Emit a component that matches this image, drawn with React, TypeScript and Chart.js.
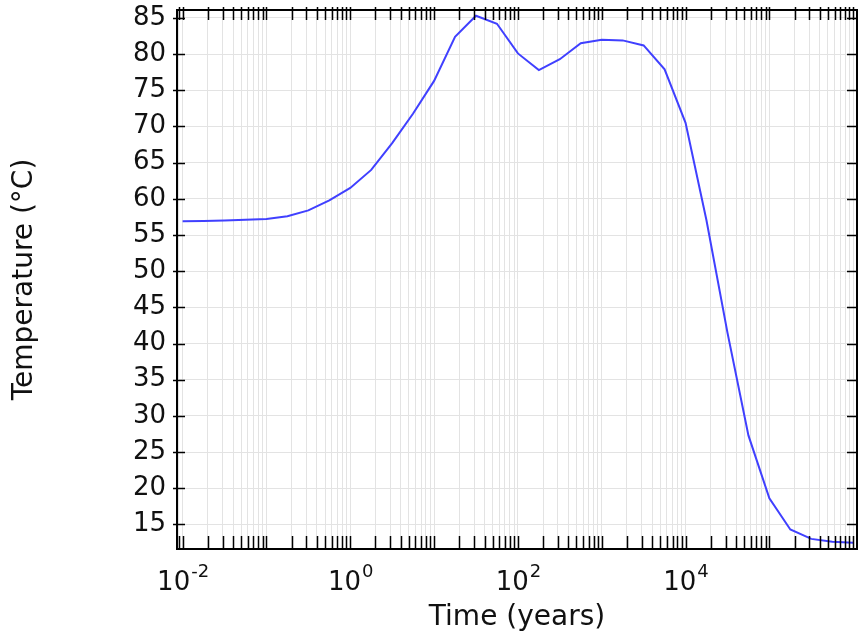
import React, { useEffect, useRef } from "react";
import { Chart, registerables } from "chart.js";

Chart.register(...registerables);

// ---- data ----
const timeYears = [
  0.01, 0.01778, 0.03162, 0.05623,
  0.1, 0.1778, 0.3162, 0.5623,
  1, 1.778, 3.162, 5.623,
  10, 17.78, 31.62, 56.23,
  100, 177.8, 316.2, 562.3,
  1000, 1778, 3162, 5623,
  10000, 17780, 31620, 56230,
  100000, 177800, 316200, 562300,
  1000000,
];
const temperatureC = [
  56.9, 56.95, 57.0, 57.1,
  57.2, 57.6, 58.4, 59.8,
  61.5, 64.0, 67.7, 71.8,
  76.3, 82.4, 85.3, 84.2,
  80.1, 77.8, 79.3, 81.5,
  82.0, 81.9, 81.2, 77.9,
  70.5, 57.0, 41.5, 27.3,
  18.6, 14.3, 13.0, 12.6,
  12.45,
];
const yTickValues = [15, 20, 25, 30, 35, 40, 45, 50, 55, 60, 65, 70, 75, 80, 85];
const xLabelExponents = [-2, 0, 2, 4];
const xAxisTitle = "Time (years)";
const yAxisTitle = "Temperature (°C)";

const X_MIN = 0.00857;
const X_MAX = 1.11e6;
const Y_MIN = 11.6;
const Y_MAX = 86.1;

const FONT = "'DejaVu Sans', sans-serif";
const TEXT_COLOR = "#111";
const GRID_COLOR = "#e3e3e3";

function logMinorTicks(min: number, max: number) {
  const out: { value: number }[] = [];
  for (let e = Math.floor(Math.log10(min)) - 1; e <= Math.ceil(Math.log10(max)); e++) {
    for (let k = 1; k <= 9; k++) {
      const v = k * Math.pow(10, e);
      if (v >= min && v <= max) out.push({ value: v });
    }
  }
  return out;
}

const framePlugin = {
  id: "frameTicks",
  afterDraw(chart: any) {
    const { ctx, chartArea } = chart;
    const { left, right, top, bottom } = chartArea;
    const xs = chart.scales.x;
    const ys = chart.scales.y;
    ctx.save();
    ctx.strokeStyle = "#000";
    ctx.lineWidth = 1.5;
    ctx.beginPath();
    for (const t of xs.ticks) {
      const px = Math.round(xs.getPixelForValue(t.value)) + 0.5;
      ctx.moveTo(px, bottom);
      ctx.lineTo(px, bottom - 13);
      ctx.moveTo(px, top - 3);
      ctx.lineTo(px, top + 10);
    }
    for (const t of ys.ticks) {
      const py = Math.round(ys.getPixelForValue(t.value)) + 0.5;
      ctx.moveTo(left - 4, py);
      ctx.lineTo(left + 8, py);
      ctx.moveTo(right + 1, py);
      ctx.lineTo(right - 10, py);
    }
    ctx.stroke();
    ctx.lineWidth = 2;
    ctx.strokeRect(left, top, right - left, bottom - top);

    ctx.fillStyle = TEXT_COLOR;
    ctx.textBaseline = "alphabetic";
    ctx.textAlign = "left";
    for (const e of xLabelExponents) {
      const px = xs.getPixelForValue(Math.pow(10, e));
      const base = "10";
      const sup = e < 0 ? "-" + Math.abs(e) : String(e);
      ctx.font = `26px ${FONT}`;
      const wb = ctx.measureText(base).width;
      ctx.font = `18px ${FONT}`;
      const ws = ctx.measureText(sup).width;
      const x0 = px - (wb + ws) / 2;
      ctx.font = `26px ${FONT}`;
      ctx.fillText(base, x0, 590);
      ctx.font = `18px ${FONT}`;
      ctx.fillText(sup, x0 + wb + 1, 577);
    }
    ctx.restore();
  },
};

export default function App() {
  const canvasRef = useRef<HTMLCanvasElement | null>(null);

  useEffect(() => {
    if (!canvasRef.current) return;
    const chart = new Chart(canvasRef.current, {
      type: "line",
      data: {
        datasets: [
          {
            data: timeYears.map((t, i) => ({ x: t, y: temperatureC[i] })),
            borderColor: "rgb(64,64,255)",
            borderWidth: 2,
            pointRadius: 0,
            tension: 0,
            fill: false,
          },
        ],
      },
      options: {
        animation: false,
        responsive: true,
        maintainAspectRatio: false,
        devicePixelRatio: 1,
        layout: { padding: { top: 10, right: 6, left: 0, bottom: 0 } },
        plugins: {
          legend: { display: false },
          tooltip: { enabled: false },
        },
        scales: {
          x: {
            type: "logarithmic",
            min: X_MIN,
            max: X_MAX,
            afterBuildTicks: (scale: any) => {
              scale.ticks = logMinorTicks(X_MIN, X_MAX);
            },
            afterFit: (scale: any) => {
              scale.height = 86;
              scale.paddingLeft = 0;
              scale.paddingRight = 0;
            },
            ticks: { display: false, autoSkip: false },
            grid: { color: GRID_COLOR, lineWidth: 1, drawTicks: false },
            border: { display: false },
            title: {
              display: true,
              text: xAxisTitle,
              color: TEXT_COLOR,
              font: { family: FONT, size: 28 },
              padding: { top: 0, bottom: 0 },
            },
          },
          y: {
            type: "linear",
            min: Y_MIN,
            max: Y_MAX,
            afterBuildTicks: (scale: any) => {
              scale.ticks = yTickValues.map((v) => ({ value: v }));
            },
            afterFit: (scale: any) => {
              scale.width = 177;
              scale.paddingTop = 0;
              scale.paddingBottom = 0;
            },
            ticks: {
              color: TEXT_COLOR,
              font: { family: FONT, size: 26 },
              padding: 11,
              autoSkip: false,
            },
            grid: { color: GRID_COLOR, lineWidth: 1, drawTicks: false },
            border: { display: false },
            title: {
              display: true,
              text: yAxisTitle,
              color: TEXT_COLOR,
              font: { family: FONT, size: 28 },
              padding: { top: 8, bottom: 0 },
            },
          },
        },
      },
      plugins: [framePlugin],
    });
    return () => chart.destroy();
  }, []);

  return (
    <div style={{ position: "fixed", left: 0, top: 0, width: 863, height: 635, background: "#fff" }}>
      <canvas ref={canvasRef} />
    </div>
  );
}
